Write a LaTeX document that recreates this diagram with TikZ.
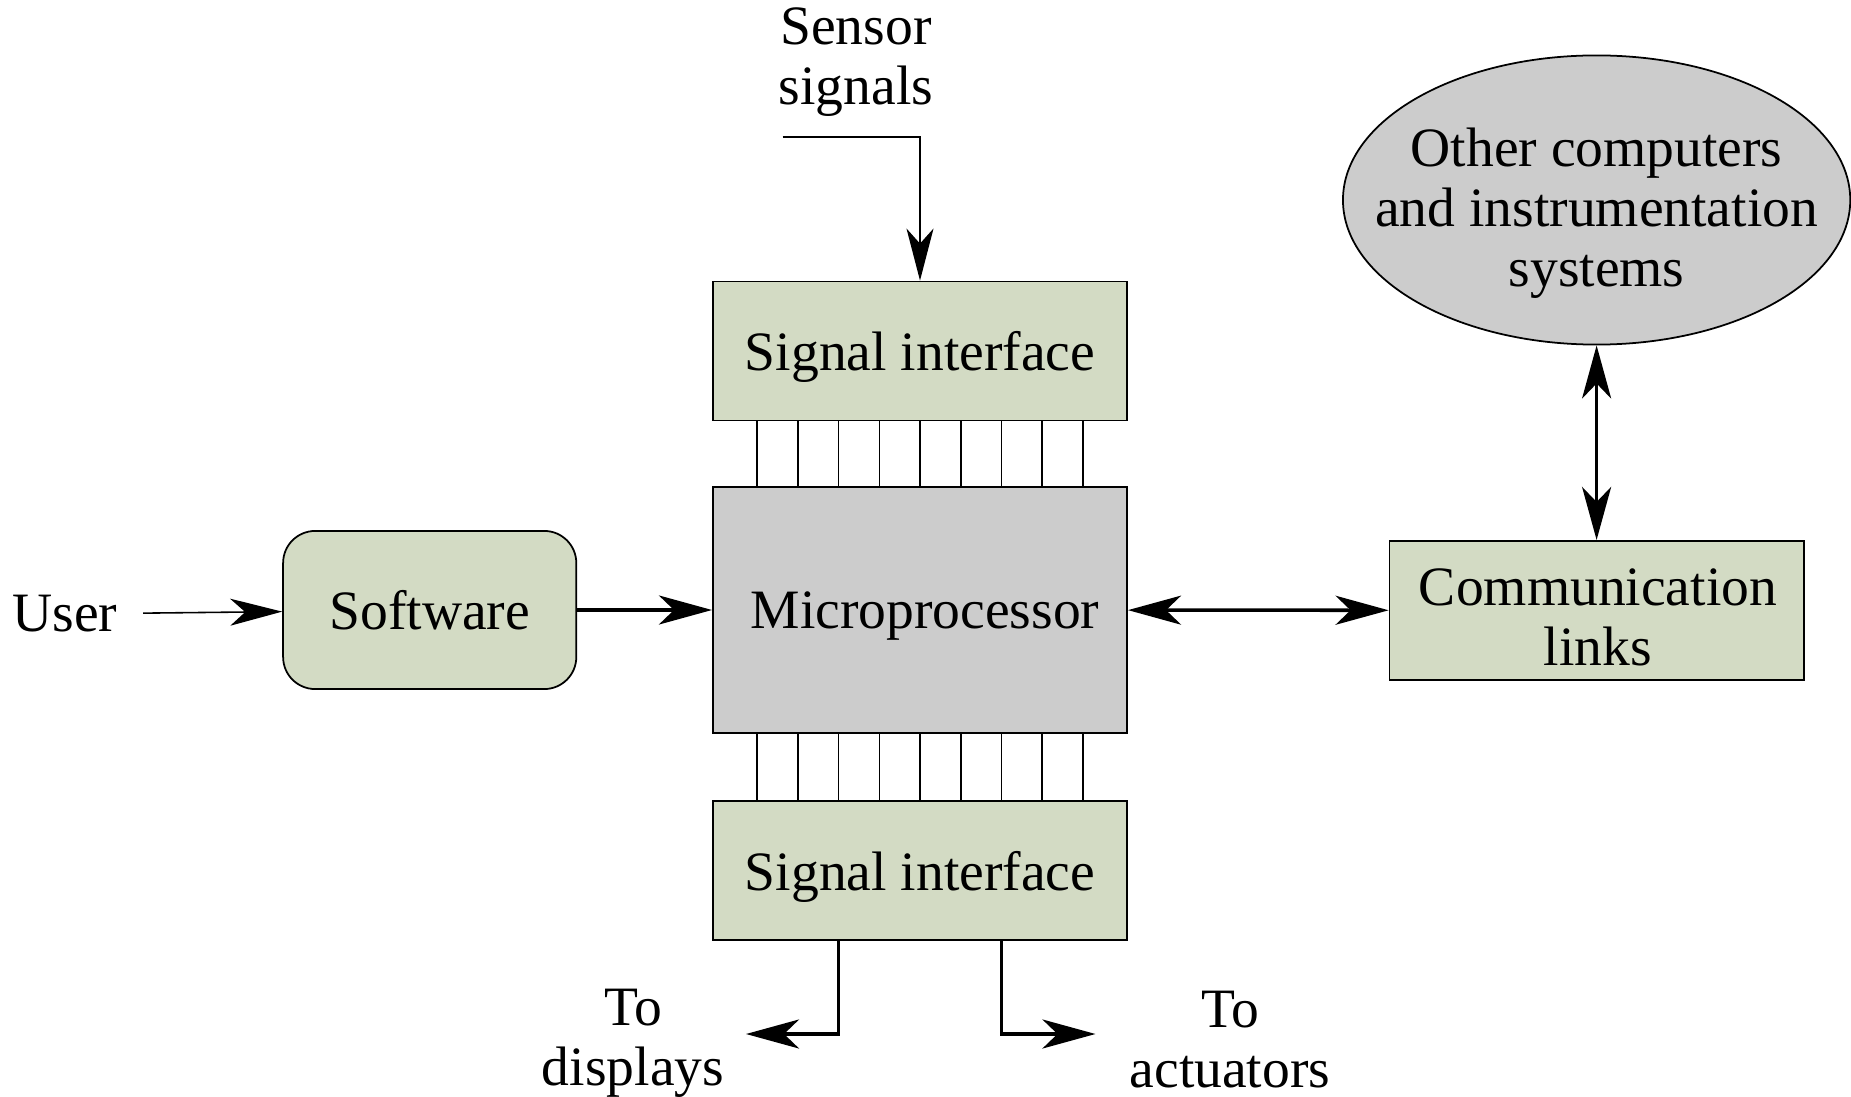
\documentclass[tikz,border=0pt]{standalone}
\usepackage{fontspec}
\setmainfont{Liberation Serif}
\usepackage{tikz}
\usetikzlibrary{calc, shapes, arrows.meta}
\definecolor{boxgreen}{RGB}{211,219,196}
\definecolor{boxgray}{RGB}{204,204,204}
\tikzstyle{block} = [rectangle, draw, fill=boxgreen, line width=0.5pt, text centered, align=center, text depth=0pt, inner sep=0pt, minimum width=4.14cm, minimum height=1.39cm]
\tikzstyle{wire} = [line width=0.45pt]
\tikzstyle{thinarrow} = [line width=0.45pt, -{Stealth[length=5.2mm, width=2.7mm, inset=1.5mm]}]
\tikzstyle{thickarrow} = [line width=1pt, -{Stealth[length=5.3mm, width=2.9mm, inset=1.5mm]}]
\tikzstyle{twoway} = [line width=1pt, {Stealth[length=5.3mm, width=2.9mm, inset=1.5mm]}-{Stealth[length=5.3mm, width=2.9mm, inset=1.5mm]}]

\begin{document}
\begin{tikzpicture}[x=0.01cm, y=-0.01cm, every node/.style={font=\fontsize{15.8}{17}\selectfont}]
        \useasboundingbox (0, 0) rectangle (1851, 1097);

        \node[block] at (920, 351) (SignalTop) {Signal interface};
        \node[block, fill=boxgray, minimum height=2.455cm] at (920, 610) (Microprocessor) {\hspace{0.1cm}Microprocessor};
        \node[block] at (920, 870.6) (SignalBottom) {Signal interface};
        \node[block, rounded corners=0.32cm, minimum width=2.93cm, minimum height=1.58cm] at (429.7, 610) (Software) {Software};
        \node[block] at (1596.6, 610.4) (CommLinks) {};
        \node[align=center] at (1598, 617) (CommText) {Communication\\links};
        \node[ellipse, draw, fill=boxgray, line width=0.5pt, minimum width=5.07cm, minimum height=2.89cm, inner sep=0pt] at (1596.6, 200) (OtherComputers) {};
        \node[align=center] at (1596.6, 213) (OtherText) {Other computers\\and instrumentation\\systems};

        \node[inner sep=0.25cm] at (65, 614) (User) {User};
        \node[align=center] at (856, 62) (Sensor) {Sensor\\signals};
        \node[align=center] at (633, 1043) (Displays) {To\\displays};
        \node[align=center] at (1230, 1039.5) (Actuators) {To\\actuators};

        \coordinate (SensorStart) at (782.7, 137);
        \coordinate (DisplaysEnd) at (746, 1034);
        \coordinate (ActuatorsEnd) at (1095.5, 1034);

        % bus lines between the interfaces and the processor
        \foreach \k in {-4,...,4} {
            \draw[wire] ($(SignalTop.south)+(\k*40.7, 0)$) -- ($(Microprocessor.north)+(\k*40.7, 0)$);
            \draw[wire] ($(Microprocessor.south)+(\k*40.7, 0)$) -- ($(SignalBottom.north)+(\k*40.7, 0)$);
        }

        \draw[thinarrow] (SensorStart) -| (SignalTop.north);
        \draw[thinarrow] (User) -- (Software);
        \draw[thickarrow] (Software) -- (Microprocessor);
        \draw[twoway] (Microprocessor) -- (CommLinks);
        \draw[twoway] (OtherComputers.south) -- (CommLinks.north);
        \draw[thickarrow] ($(SignalBottom.south)+(-81.4, 0)$) |- (DisplaysEnd);
        \draw[thickarrow] ($(SignalBottom.south)+(81.4, 0)$) |- (ActuatorsEnd);
    \end{tikzpicture}
\end{document}
